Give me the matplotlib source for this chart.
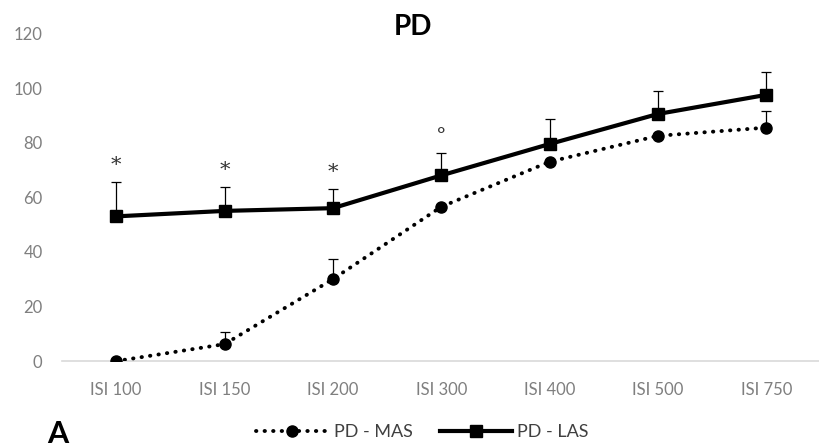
import matplotlib.pyplot as plt
import numpy as np

# PD group: percentage by inter-stimulus interval
categories = ["ISI 100", "ISI 150", "ISI 200", "ISI 300", "ISI 400", "ISI 500", "ISI 750"]
mas_values = [0, 6.2, 30, 56.5, 73, 82.5, 85.5]
mas_err = [0, 4.4, 7.4, 0, 0, 0, 6]
las_values = [53, 55, 56, 68, 79.5, 90.5, 97.5]
las_err = [12.5, 8.8, 7, 8.2, 9, 8.5, 8.3]
marks = ["*", "*", "*", "°", "", "", ""]

plt.rcParams["font.family"] = ["Lato", "DejaVu Sans"]

fig = plt.figure(figsize=(8.2, 4.48), dpi=100)
ax = fig.add_axes([0.0756, 0.194, 0.925, 0.7314])

x = np.arange(len(categories))

ax.errorbar(x, mas_values, yerr=[np.zeros(len(x)), mas_err], fmt="none",
            ecolor="black", elinewidth=0.9, capsize=3.6, capthick=0.9, zorder=2)
ax.errorbar(x, las_values, yerr=[np.zeros(len(x)), las_err], fmt="none",
            ecolor="black", elinewidth=0.9, capsize=3.6, capthick=0.9, zorder=2)

ax.plot(x, mas_values, linestyle=(0, (0.1, 2.1)), dash_capstyle="round",
        color="black", linewidth=2.8, marker="o", markersize=8,
        label="PD - MAS", zorder=3)
ax.plot(x, las_values, linestyle="-", color="black", linewidth=3,
        marker="s", markersize=8.5, label="PD - LAS", zorder=4)

# significance marks above the LAS error bars
for xi, v, e, m in zip(x, las_values, las_err, marks):
    if m:
        ax.text(xi, v + e + 2.5, m, ha="center", va="bottom", fontsize=15,
                color="#333333", family="DejaVu Serif")

ax.set_xlim(-0.5, len(categories) - 0.5)
ax.set_ylim(0, 120)
ax.set_yticks(np.arange(0, 121, 20))
ax.set_xticks(x)
ax.set_xticklabels(categories)

for side in ["top", "right", "left"]:
    ax.spines[side].set_visible(False)
ax.spines["bottom"].set_color("#d9d9d9")
ax.spines["bottom"].set_linewidth(1.2)
ax.tick_params(axis="both", length=0, labelsize=12, labelcolor="#7f7f7f")
ax.tick_params(axis="y", pad=14)
ax.tick_params(axis="x", pad=15)

fig.text(0.503, 0.94, "PD", ha="center", va="center", fontsize=20,
         fontweight="bold", color="black")
fig.text(0.058, 0.0, "A", ha="left", va="bottom", fontsize=22,
         fontweight="bold", color="black")

fig.legend(loc="center", bbox_to_anchor=(0.515, 0.035), ncol=2, frameon=False,
           fontsize=13, handlelength=4, columnspacing=1.5, handletextpad=0.3,
           labelcolor="#404040")

fig.savefig("out.png", dpi=100)
